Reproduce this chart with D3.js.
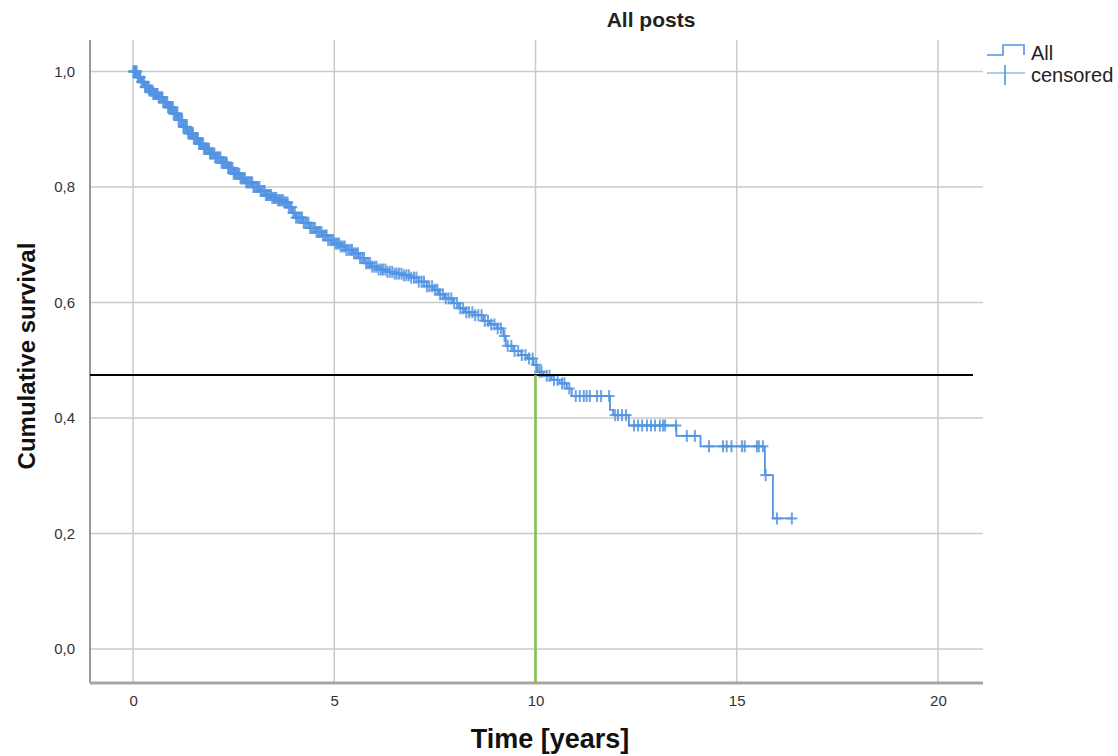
<!DOCTYPE html>
<html>
<head>
<meta charset="utf-8">
<script src="https://cdn.jsdelivr.net/npm/d3@7"></script>
<style>
  body { margin: 0; background: #fff; }
</style>
</head>
<body>
<div class="board"></div>
<script>
// survival chart, SPSS look

var chartTitle = 'All posts';
var seriesName = 'All';
var censorName = 'censored';
var xTitle = 'Time [years]';
var yTitle = 'Cumulative survival';

var xTicks = [0, 5, 10, 15, 20];
var yTicks = [0, 0.2, 0.4, 0.6, 0.8, 1.0];

// event times and survival after each step
var eventTimes = [0, 0.10, 0.20, 0.30, 0.40, 0.50, 0.62, 0.75, 0.87, 1.00, 1.12, 1.25, 1.37, 1.50, 1.62, 1.75, 1.90,
  2.04, 2.20, 2.36, 2.50, 2.65, 2.80, 2.98, 3.15, 3.30, 3.45, 3.60, 3.75, 3.85, 3.95, 4.05, 4.22, 4.40, 4.55,
  4.70, 4.85, 5.00, 5.15, 5.30, 5.47, 5.60, 5.75, 5.90, 6.10, 6.30, 6.50, 6.70, 6.90, 7.10, 7.30, 7.45, 7.60,
  7.75, 7.95, 8.10, 8.25, 8.50, 8.70, 8.85, 9.05, 9.20, 9.26, 9.45, 9.65, 9.80, 9.95, 10.05, 10.20, 10.40,
  10.60, 10.78, 10.90, 11.85, 11.93, 12.32, 13.50, 14.10, 15.70, 15.90];
var survival = [1.000, 0.990, 0.982, 0.973, 0.967, 0.961, 0.955, 0.947, 0.938, 0.927, 0.916, 0.904, 0.893, 0.884, 0.875, 0.866, 0.858,
  0.851, 0.842, 0.833, 0.823, 0.815, 0.808, 0.800, 0.793, 0.786, 0.781, 0.777, 0.773, 0.765, 0.755, 0.747, 0.738, 0.729, 0.722,
  0.716, 0.708, 0.702, 0.697, 0.691, 0.685, 0.677, 0.668, 0.662, 0.657, 0.653, 0.650, 0.647, 0.643, 0.636, 0.628, 0.622, 0.614,
  0.607, 0.599, 0.590, 0.583, 0.578, 0.568, 0.562, 0.555, 0.542, 0.525, 0.516, 0.509, 0.503, 0.492, 0.480, 0.473, 0.466,
  0.460, 0.451, 0.438, 0.414, 0.405, 0.387, 0.369, 0.351, 0.301, 0.226];

var censorTimes = [0.01, 0.03, 0.05, 0.07, 0.09, 0.12, 0.14, 0.16, 0.18, 0.21, 0.23, 0.25, 0.27, 0.30, 0.32, 0.34, 0.36,
  0.39, 0.41, 0.43, 0.45, 0.48, 0.50, 0.52, 0.54, 0.57, 0.59, 0.61, 0.64, 0.66, 0.68, 0.71, 0.73, 0.75, 0.78, 0.80,
  0.82, 0.85, 0.87, 0.89, 0.92, 0.94, 0.96, 0.99, 1.01, 1.03, 1.06, 1.08, 1.10, 1.13, 1.15, 1.18, 1.20, 1.22, 1.25,
  1.27, 1.30, 1.32, 1.34, 1.37, 1.39, 1.42, 1.44, 1.46, 1.49, 1.51, 1.54, 1.56, 1.59, 1.61, 1.64, 1.66, 1.69, 1.71,
  1.74, 1.76, 1.79, 1.81, 1.84, 1.86, 1.89, 1.91, 1.94, 1.96, 1.99, 2.02, 2.04, 2.07, 2.09, 2.12, 2.15, 2.17, 2.20,
  2.23, 2.25, 2.28, 2.31, 2.33, 2.36, 2.39, 2.42, 2.44, 2.47, 2.50, 2.53, 2.55, 2.58, 2.61, 2.64, 2.67, 2.70, 2.73,
  2.75, 2.78, 2.81, 2.84, 2.87, 2.90, 2.93, 2.96, 2.99, 3.02, 3.05, 3.08, 3.11, 3.14, 3.17, 3.20, 3.24, 3.27, 3.30,
  3.33, 3.36, 3.40, 3.43, 3.46, 3.50, 3.53, 3.56, 3.60, 3.63, 3.66, 3.70, 3.73, 3.77, 3.80, 3.84, 3.87, 3.91, 3.94,
  3.98, 4.02, 4.05, 4.09, 4.13, 4.17, 4.20, 4.24, 4.28, 4.32, 4.36, 4.40, 4.44, 4.48, 4.52, 4.56, 4.60, 4.64, 4.68,
  4.72, 4.77, 4.81, 4.85, 4.90, 4.94, 4.98, 5.03, 5.07, 5.12, 5.16, 5.21, 5.26, 5.30, 5.35, 5.40, 5.44, 5.49, 5.54,
  5.59, 5.64, 5.69, 5.74, 5.79, 5.84, 5.89, 5.94, 6.00, 6.05, 6.10, 6.16, 6.21, 6.27, 6.32, 6.38, 6.44, 6.50, 6.55,
  6.61, 6.67, 6.73, 6.79, 6.85, 6.91, 6.98, 7.04, 7.10, 7.17, 7.23, 7.30, 7.36, 7.43, 7.50, 7.56, 7.63, 7.70, 7.77,
  7.84, 7.91, 7.98, 8.05, 8.13, 8.20, 8.28, 8.35, 8.43, 8.50, 8.58, 8.66, 8.74, 8.82, 8.90, 8.98, 9.06, 9.14, 9.23,
  9.31, 9.40, 9.48, 9.57, 9.66, 9.75, 9.84, 9.93, 10.02, 10.10, 10.15, 10.28, 10.35, 10.46, 10.55, 10.66, 10.72,
  10.84, 11.00, 11.10, 11.20, 11.27, 11.35, 11.53, 11.63, 11.83, 11.98, 12.05, 12.15, 12.25, 12.45, 12.55, 12.65,
  12.77, 12.87, 12.97, 13.09, 13.17, 13.22, 13.49, 13.76, 13.96, 14.31, 14.66, 14.75, 14.87, 15.13, 15.20, 15.50,
  15.55, 15.65, 15.72, 16.00, 16.37];

var medianLevel = 0.4745;
var medianTime = 10;

var width = 1118;
var height = 756;
var plot = { left: 90, right: 983, top: 40, bottom: 683 };

var x = d3.scaleLinear().domain([-1.07, 21.12]).range([plot.left, plot.right]);
var y = d3.scaleLinear().domain([-0.0589, 1.0545]).range([plot.bottom, plot.top]);

var svg = d3.select('.board').append('svg').attr('width', width).attr('height', height)
  .style('font-family', 'Arial, "Liberation Sans", sans-serif');

var blue = '#5294e2';
var grid = '#cacaca';

// gridlines
svg.append('g').selectAll('line').data(xTicks).enter().append('line')
  .attr('x1', d => x(d)).attr('x2', d => x(d))
  .attr('y1', plot.top).attr('y2', plot.bottom)
  .attr('stroke', grid).attr('stroke-width', 1.5);
svg.append('g').selectAll('line').data(yTicks).enter().append('line')
  .attr('x1', plot.left).attr('x2', plot.right)
  .attr('y1', d => y(d)).attr('y2', d => y(d))
  .attr('stroke', grid).attr('stroke-width', 1.5);

// axes
var xAxis = d3.axisBottom(x).tickValues(xTicks).tickSize(0).tickPadding(12).tickFormat(d3.format('d'));
var yAxis = d3.axisLeft(y).tickValues(yTicks).tickSize(0).tickPadding(15)
  .tickFormat(d => d3.format('.1f')(d).replace('.', ','));

var gx = svg.append('g').attr('transform', `translate(0,${plot.bottom})`).call(xAxis);
gx.select('.domain').remove();
gx.attr('font-size', 15).attr('font-family', 'Arial, "Liberation Sans", sans-serif');
gx.selectAll('text').attr('fill', '#333');

var gy = svg.append('g').attr('transform', `translate(${plot.left},0)`).call(yAxis);
gy.select('.domain').remove();
gy.attr('font-size', 15).attr('font-family', 'Arial, "Liberation Sans", sans-serif');
gy.selectAll('text').attr('fill', '#333');

svg.append('line').attr('x1', plot.left).attr('x2', plot.left).attr('y1', plot.top).attr('y2', plot.bottom)
  .attr('stroke', '#9a9a9a').attr('stroke-width', 2);
svg.append('line').attr('x1', plot.left).attr('x2', plot.right).attr('y1', plot.bottom).attr('y2', plot.bottom)
  .attr('stroke', '#a5a5a5').attr('stroke-width', 3);

// step curve
var steps = eventTimes.map((t, i) => ({ t: t, s: survival[i] }));
steps.push({ t: d3.max(censorTimes), s: survival[survival.length - 1] });

var line = d3.line().x(d => x(d.t)).y(d => y(d.s)).curve(d3.curveStepAfter);
svg.append('path').datum(steps).attr('d', line)
  .attr('fill', 'none').attr('stroke', blue).attr('stroke-width', 1.8);

var bisect = d3.bisector(d => d).right;
var survAt = function(t) {
  var i = bisect(eventTimes, t) - 1;
  return survival[Math.max(i, 0)];
};

var censors = censorTimes.map(t => ({ t: t, s: survAt(t) }));
var cg = svg.append('g').attr('stroke', blue).attr('stroke-width', 2).attr('stroke-opacity', 0.85);
cg.selectAll('.cv').data(censors).enter().append('line').attr('class', 'cv')
  .attr('x1', d => x(d.t)).attr('x2', d => x(d.t))
  .attr('y1', d => y(d.s) - 6).attr('y2', d => y(d.s) + 6);
cg.selectAll('.ch').data(censors).enter().append('line').attr('class', 'ch')
  .attr('x1', d => x(d.t) - 5.5).attr('x2', d => x(d.t) + 5.5)
  .attr('y1', d => y(d.s)).attr('y2', d => y(d.s));

// reference lines
svg.append('line').attr('x1', plot.left).attr('x2', 973)
  .attr('y1', y(medianLevel)).attr('y2', y(medianLevel))
  .attr('stroke', '#000').attr('stroke-width', 2);
svg.append('line').attr('x1', x(medianTime)).attr('x2', x(medianTime))
  .attr('y1', y(medianLevel)).attr('y2', plot.bottom)
  .attr('stroke', '#80c342').attr('stroke-width', 2.5);

// titles
svg.append('text').attr('x', 651).attr('y', 27).attr('text-anchor', 'middle')
  .style('font-size', '21px').style('font-weight', 'bold').attr('fill', '#222').text(chartTitle);
svg.append('text').attr('x', 550).attr('y', 748).attr('text-anchor', 'middle')
  .style('font-size', '27px').style('font-weight', 'bold').attr('fill', '#111').text(xTitle);
svg.append('text').attr('transform', 'translate(35,356) rotate(-90)').attr('text-anchor', 'middle')
  .style('font-size', '24px').style('font-weight', 'bold').attr('fill', '#111').text(yTitle);

// legend
var legend = svg.append('g');
legend.append('path').attr('d', 'M987,55H1003V45H1024V55')
  .attr('fill', 'none').attr('stroke', blue).attr('stroke-width', 1.6);
legend.append('text').attr('x', 1031).attr('y', 60).style('font-size', '20px').attr('fill', '#222').text(seriesName);
legend.append('line').attr('x1', 987).attr('x2', 1025).attr('y1', 73).attr('y2', 73)
  .attr('stroke', '#8fb8ee').attr('stroke-width', 1.6);
legend.append('line').attr('x1', 1005).attr('x2', 1005).attr('y1', 65).attr('y2', 85)
  .attr('stroke', blue).attr('stroke-width', 1.6);
legend.append('text').attr('x', 1031).attr('y', 82).style('font-size', '20px').attr('fill', '#222').text(censorName);
</script>
</body>
</html>
